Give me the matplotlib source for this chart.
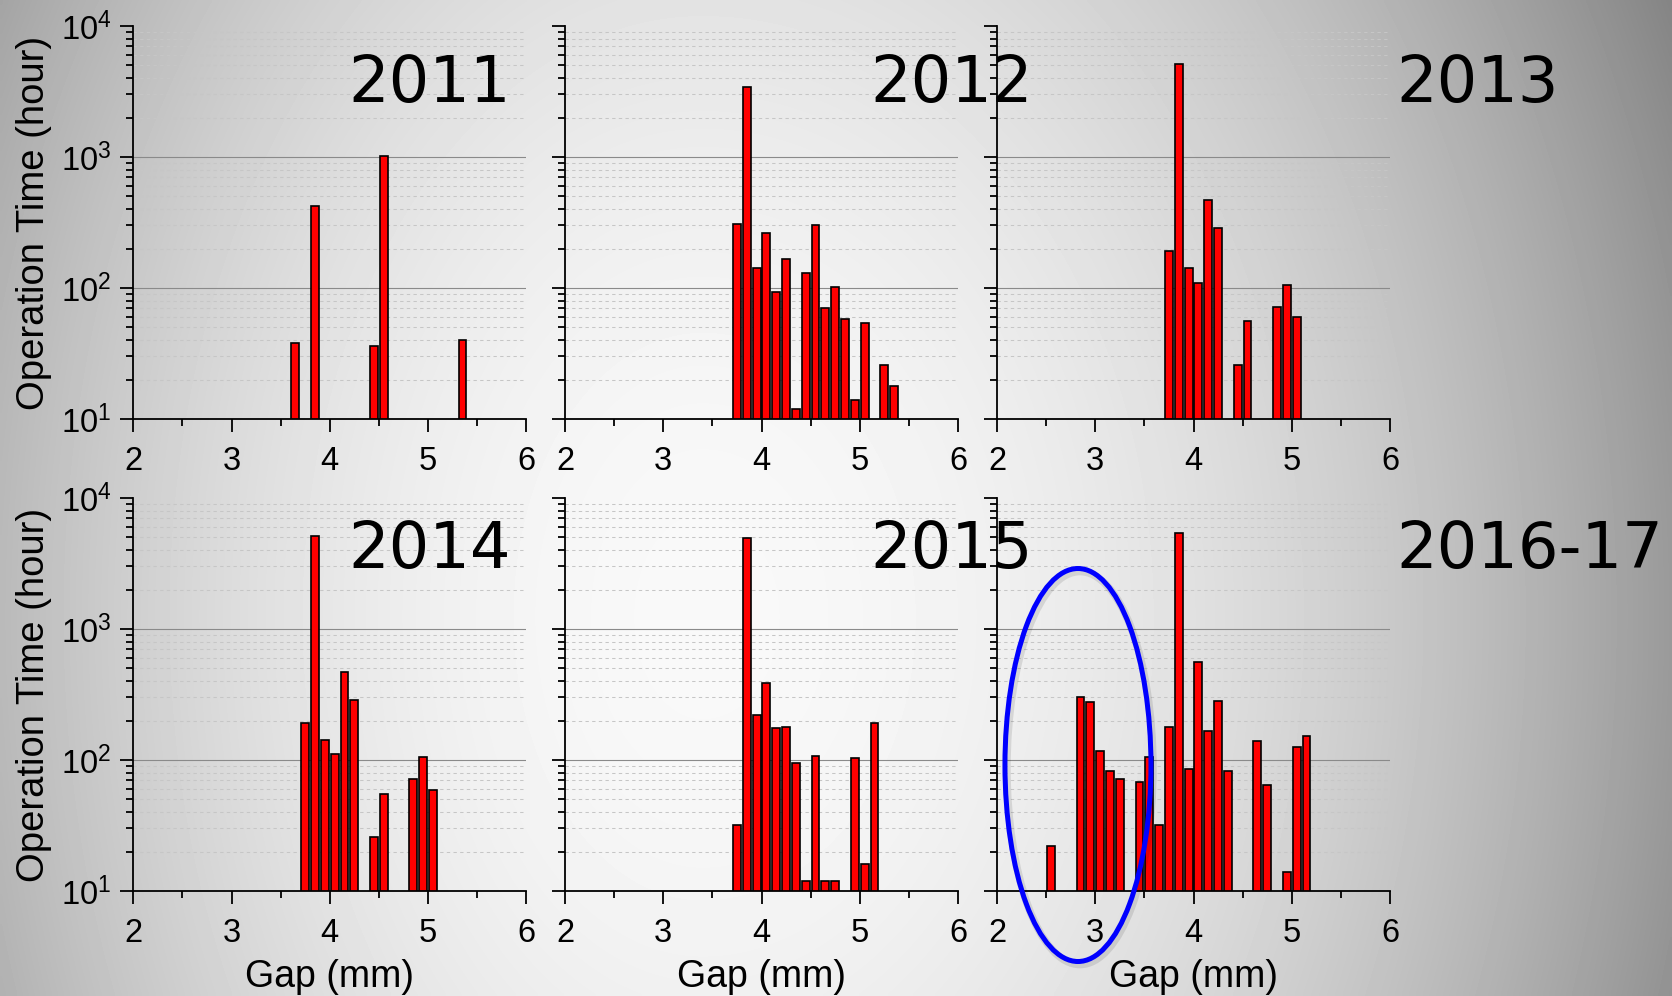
import numpy as np
import matplotlib
matplotlib.use("Agg")
import matplotlib.pyplot as plt
from matplotlib.ticker import LogLocator, FixedLocator, NullFormatter
from matplotlib.patches import Ellipse

plt.rcParams['font.family'] = ['Liberation Sans', 'DejaVu Sans']
plt.rcParams['mathtext.fontset'] = 'custom'
plt.rcParams['mathtext.rm'] = 'Liberation Sans'
plt.rcParams['mathtext.it'] = 'Liberation Sans:italic'
plt.rcParams['mathtext.bf'] = 'Liberation Sans:bold'

# ---------------- data ----------------
years = ["2011", "2012", "2013", "2014", "2015", "2016-17"]

gap_2011 = [3.65, 3.85, 4.45, 4.55, 5.35]
hours_2011 = [38, 420, 36, 1020, 40]

gap_2012 = [3.75, 3.85, 3.95, 4.05, 4.15, 4.25, 4.35, 4.45, 4.55, 4.65, 4.75, 4.85, 4.95, 5.05, 5.25, 5.35]
hours_2012 = [310, 3400, 142, 264, 93, 166, 12, 130, 302, 70, 102, 58, 14, 54, 26, 18]

gap_2013 = [3.75, 3.85, 3.95, 4.05, 4.15, 4.25, 4.45, 4.55, 4.85, 4.95, 5.05]
hours_2013 = [193, 5150, 143, 110, 469, 286, 26, 56, 72, 105, 60]

gap_2014 = [3.75, 3.85, 3.95, 4.05, 4.15, 4.25, 4.45, 4.55, 4.85, 4.95, 5.05]
hours_2014 = [192, 5090, 143, 111, 466, 286, 26, 55, 72, 105, 59]

gap_2015 = [3.75, 3.85, 3.95, 4.05, 4.15, 4.25, 4.35, 4.45, 4.55, 4.65, 4.75, 4.95, 5.05, 5.15]
hours_2015 = [32, 4950, 220, 386, 175, 179, 95, 12, 107, 12, 12, 104, 16, 190]

gap_2016 = [2.55, 2.85, 2.95, 3.05, 3.15, 3.25, 3.45, 3.55, 3.65, 3.75, 3.85, 3.95,
            4.05, 4.15, 4.25, 4.35, 4.65, 4.75, 4.95, 5.05, 5.15]
hours_2016 = [22, 302, 276, 117, 83, 72, 68, 105, 32, 179, 5370, 85,
              562, 167, 284, 83, 139, 64, 14, 125, 152]

gaps = [gap_2011, gap_2012, gap_2013, gap_2014, gap_2015, gap_2016]
hours = [hours_2011, hours_2012, hours_2013, hours_2014, hours_2015, hours_2016]

x_ticks = [2, 3, 4, 5, 6]
x_minor = [2.5, 3.5, 4.5, 5.5]

# ---------------- figure ----------------
W, H = 1672, 996
fig = plt.figure(figsize=(W / 100, H / 100), dpi=100)

# background gradient
bg = fig.add_axes([0, 0, 1, 1], zorder=-10)
u = np.linspace(0, 1, 420)[None, :]
v = np.linspace(0, 1, 250)[:, None]
du = u - 0.42
kx = np.where(du < 0, 1.40, 1.10)
val = 0.975 - kx * du ** 2 - 0.22 * (v - 0.62) ** 2
bg.imshow(val, cmap='gray', vmin=0, vmax=1, aspect='auto', extent=[0, 1, 0, 1],
          interpolation='bilinear')
bg.set_xlim(0, 1)
bg.set_ylim(0, 1)
bg.axis('off')

col_left = [133.3, 565, 997]
row_top = [26, 498]
ax_w = 393
ax_h = 393

axes = []
for i in range(6):
    r, c = divmod(i, 3)
    left = col_left[c] / W
    bottom = 1 - (row_top[r] + ax_h) / H
    ax = fig.add_axes([left, bottom, ax_w / W, ax_h / H])
    ax.set_facecolor('none')
    ax.set_yscale('log')
    ax.set_xlim(2, 6)
    ax.set_ylim(10, 1e4)
    ax.xaxis.set_major_locator(FixedLocator(x_ticks))
    ax.xaxis.set_minor_locator(FixedLocator(x_minor))
    ax.yaxis.set_major_locator(LogLocator(base=10))
    ax.yaxis.set_minor_locator(LogLocator(base=10, subs=np.arange(2, 10)))
    ax.yaxis.set_minor_formatter(NullFormatter())
    for s in ['top', 'right']:
        ax.spines[s].set_visible(False)
    for s in ['left', 'bottom']:
        ax.spines[s].set_linewidth(1.3)
    ax.tick_params(axis='both', which='major', direction='out', length=9.7, width=1.3,
                   labelsize=23.5)
    ax.tick_params(axis='both', which='minor', direction='out', length=4.7, width=1.3)
    ax.tick_params(axis='x', which='major', pad=10)
    ax.tick_params(axis='y', which='major', pad=6)
    if c != 0:
        ax.tick_params(axis='y', labelleft=False)

    # grid lines (drawn from axis tick positions)
    for yv in ax.yaxis.get_majorticklocs():
        if 10 < yv < 1e4:
            ax.axhline(yv, color='#8a8a8a', lw=0.8, zorder=0.5)
    for yv in ax.yaxis.get_minorticklocs():
        if 10 < yv < 1e4:
            ax.axhline(yv, color='#c6c6c6', lw=0.75, ls=(0, (3.2, 3.2)), zorder=0.4)

    ax.bar(gaps[i], hours[i], width=0.08, color='#ff0000', edgecolor='black',
           linewidth=1.2, zorder=2)

    if c == 0:
        ax.set_ylabel('Operation Time (hour)', fontsize=27.5)
        ax.yaxis.set_label_coords(-0.207, 0.5)
    if r == 1:
        ax.set_xlabel('Gap (mm)', fontsize=27)
        ax.xaxis.set_label_coords(0.5, -0.173)
    axes.append(ax)

# year labels
year_x = [348, 870, 1396]
year_base = [101.7, 568]
for i, yr in enumerate(years):
    r, c = divmod(i, 3)
    fig.text(year_x[c] / W, 1 - year_base[r] / H, yr, fontsize=46,
             family='DejaVu Sans', ha='left', va='baseline', color='black')

# highlight ellipse on last panel
ax6 = axes[5]
shadow = Ellipse((0.211, 0.313), 0.3715, 1.0, transform=ax6.transAxes, fill=False,
                 edgecolor='black', alpha=0.10, lw=5.5, clip_on=False, zorder=4)
ax6.add_patch(shadow)
ell = Ellipse((0.206, 0.3206), 0.3715, 1.0, transform=ax6.transAxes, fill=False,
              edgecolor='#0000ff', lw=3.6, clip_on=False, zorder=5)
ax6.add_patch(ell)

fig.savefig('out.png', dpi=100)
